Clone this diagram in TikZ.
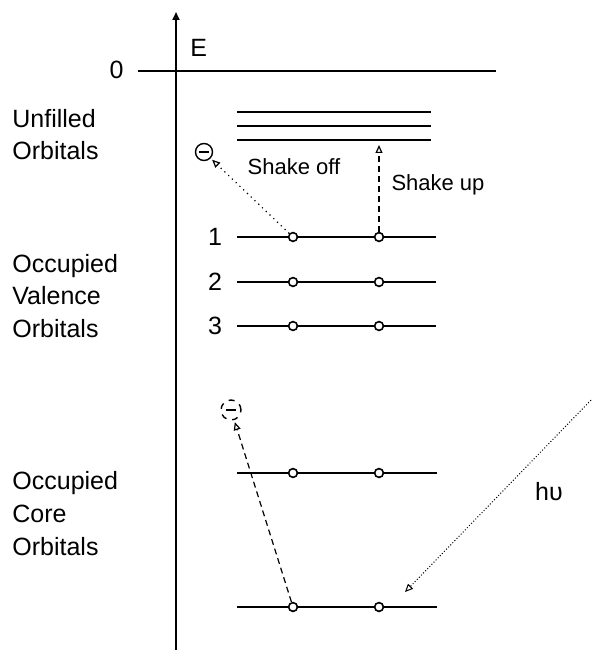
\documentclass[tikz,border=0pt]{standalone}
\usepackage{fontspec}
\setmainfont{Liberation Sans}
\usetikzlibrary{arrows.meta}
\tikzset{
lvl/.style={line width=0.9pt},
elec/.style={circle,draw,fill=white,line width=0.8pt,minimum size=4.4pt,inner sep=0pt},
freeel/.style={circle,draw,line width=0.7pt,minimum size=8.5pt,inner sep=0pt},
lbl/.style={font=\fontsize{12.5}{16}\selectfont,align=left,anchor=west,inner sep=0pt},
small/.style={font=\fontsize{11}{13}\selectfont,inner sep=0pt},
tip/.style={-{Triangle[open,length=4pt,width=3.5pt]}},
jump/.style={tip,densely dashed,line width=0.6pt}
}
\newcommand{\minussign}{\rule[-0.35pt]{5.2pt}{0.7pt}}

\begin{document}
\begin{tikzpicture}[x=0.5pt,y=-0.5pt]
\useasboundingbox (0,0) rectangle (592,657);
% energy axis and zero
\coordinate (axbot) at (176,650);
\coordinate (axtop) at (176,12);
\draw[line width=1pt,tip] (axbot) -- (axtop);
\node[lbl] (E) at (190,48) {E};
\node[lbl,anchor=east] (zero) at (124,70) {0};
\coordinate (zl) at (138,71);
\coordinate (zr) at (496,71);
\draw[line width=1pt] (zl) -- (zr);
% groups
\node[lbl] (unf) at (12,135) {Unfilled\\Orbitals};
\node[lbl,font=\fontsize{12.5}{16.3}\selectfont] (val) at (12,296) {Occupied\\Valence\\Orbitals};
\node[lbl,font=\fontsize{12.5}{16.5}\selectfont] (core) at (12,514) {Occupied\\Core\\Orbitals};
% unfilled levels
\foreach \y in {112,126,140}
  \draw[lvl] (237,\y) -- (431,\y);
% valence levels
\foreach \y/\n in {237/1,282/2,326/3}{
  \node[lbl,anchor=center] (n\n) at (215,\y) {\n};
  \draw[lvl] (237,\y) -- (436,\y);
  \node[elec] (v\n a) at (293,\y) {};
  \node[elec] (v\n b) at (379,\y) {};
}
% core levels
\foreach \y/\n in {473/a,607/b}{
  \draw[lvl] (237,\y) -- (437,\y);
  \node[elec] (c\n1) at (293,\y) {};
  \node[elec] (c\n2) at (379,\y) {};
}
% shake off / shake up
\node[freeel] (offel) at (204,152) {\minussign};
\draw[tip,dotted,line width=0.6pt,shorten >=1pt] (v1a) -- (offel);
\node[small] (off) at (294,167) {Shake off};
\coordinate (upend) at (379,145);
\draw[jump] (v1b) -- (upend);
\node[small] (up) at (438,185) {Shake up};
% core photoemission
\node[freeel,dashed,minimum size=10pt] (coreel) at (231,410) {\minussign};
\draw[jump,shorten >=1pt] (cb1) -- (coreel);
\coordinate (hvsrc) at (593,398);
\coordinate (hvend) at (405,592);
\draw[tip,densely dotted,line width=0.5pt] (hvsrc) -- (hvend);
\node[lbl,anchor=center] (hv) at (549,492) {hυ};
\end{tikzpicture}
\end{document}
